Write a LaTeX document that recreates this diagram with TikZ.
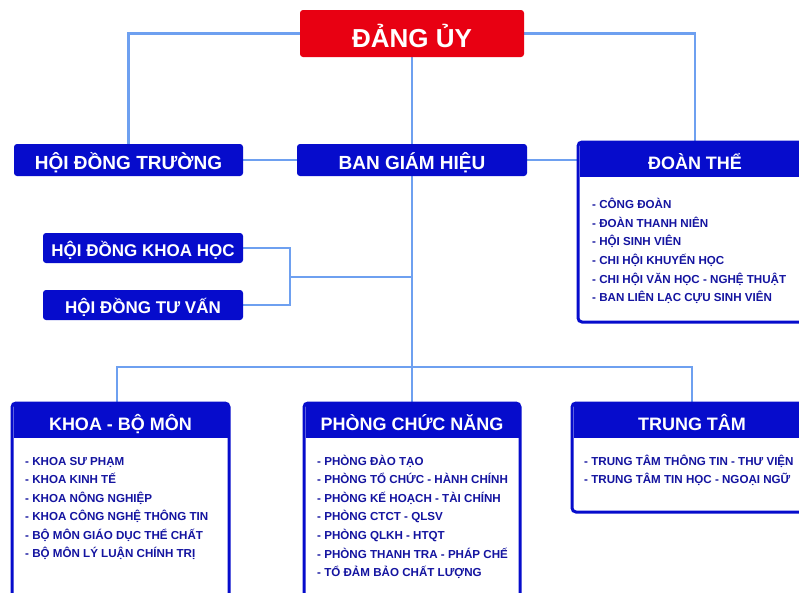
\documentclass[tikz,border=0pt]{standalone}
\usepackage{fontspec}
\setmainfont{Liberation Sans}
\usetikzlibrary{backgrounds}
\definecolor{boxblue}{RGB}{6,12,204}
\definecolor{txtblue}{RGB}{20,20,160}
\definecolor{linkblue}{RGB}{110,160,240}
\definecolor{partyred}{RGB}{232,0,18}
\tikzset{
  link/.style={draw=linkblue, line width=2.6pt},
  topbox/.style={fill=boxblue, text=white, font=\bfseries\fontsize{19}{19}\selectfont,
    rounded corners=3pt, minimum height=32pt, inner sep=0pt, text height=19pt, text depth=0pt},
  listbox/.style={draw=boxblue, line width=3pt, fill=white, rounded corners=4pt, inner sep=0pt},
  headbar/.style={fill=boxblue, inner sep=0pt, text=white, anchor=north,
    font=\bfseries\fontsize{18}{18}\selectfont, text height=21pt, text depth=0pt, minimum height=35pt},
  item/.style={text=txtblue, font=\bfseries\fontsize{11.6}{11.6}\selectfont, inner sep=0pt, anchor=base west}
}
\begin{document}
\begin{tikzpicture}[x=1pt,y=-1pt]
\useasboundingbox (0,0) rectangle (799,592);
\clip (0,0) rectangle (799,592);
% top
\node[topbox, fill=partyred, minimum width=224pt, minimum height=47pt,
  font=\bfseries\fontsize{26}{26}\selectfont, text height=28pt] (dangy) at (412,33.5) {ĐẢNG ỦY};
\node[topbox, minimum width=229pt] (hdt) at (128.5,160) {HỘI ĐỒNG TRƯỜNG};
\node[topbox, minimum width=230pt] (bgh) at (412,160) {BAN GIÁM HIỆU};
\node[topbox, minimum width=200pt, minimum height=30pt, font=\bfseries\fontsize{17}{17}\selectfont, text height=17pt] (hdkh) at (143,248) {HỘI ĐỒNG KHOA HỌC};
\node[topbox, minimum width=200pt, minimum height=30pt, font=\bfseries\fontsize{17}{17}\selectfont, text height=17pt] (hdtv) at (143,305) {HỘI ĐỒNG TƯ VẤN};
% Doan the
\node[listbox, minimum width=234pt, minimum height=180pt] (doanthe) at (695,232) {};
\node[headbar, minimum width=231pt] (doantheH) at ([yshift=-1pt]doanthe.north) {ĐOÀN THỂ};
\foreach \t [count=\i] in {- CÔNG ĐOÀN, - ĐOÀN THANH NIÊN, - HỘI SINH VIÊN, - CHI HỘI KHUYẾN HỌC,
  - CHI HỘI VĂN HỌC - NGHỆ THUẬT, - BAN LIÊN LẠC CỰU SINH VIÊN}
  \node[item] (dt\i) at (592, 208.3+18.7*\i-18.7) {\t};
% Khoa
\node[listbox, minimum width=217pt, minimum height=207pt] (khoa) at (120.5,506.5) {};
\node[headbar, minimum width=214pt] (khoaH) at ([yshift=-1pt]khoa.north) {KHOA - BỘ MÔN};
\foreach \t [count=\i] in {- KHOA SƯ PHẠM, - KHOA KINH TẾ, - KHOA NÔNG NGHIỆP, - KHOA CÔNG NGHỆ THÔNG TIN,
  - BỘ MÔN GIÁO DỤC THỂ CHẤT, - BỘ MÔN LÝ LUẬN CHÍNH TRỊ}
  \node[item] (kh\i) at (25, 465+18.5*\i-18.5) {\t};
% Phong
\node[listbox, minimum width=216pt, minimum height=207pt] (pcn) at (412,506.5) {};
\node[headbar, minimum width=213pt] (pcnH) at ([yshift=-1pt]pcn.north) {PHÒNG CHỨC NĂNG};
\foreach \t [count=\i] in {- PHÒNG ĐÀO TẠO, - PHÒNG TỔ CHỨC - HÀNH CHÍNH, - PHÒNG KẾ HOẠCH - TÀI CHÍNH,
  - PHÒNG CTCT - QLSV, - PHÒNG QLKH - HTQT, - PHÒNG THANH TRA - PHÁP CHẾ, - TỔ ĐẢM BẢO CHẤT LƯỢNG}
  \node[item] (pc\i) at (317, 465+18.6*\i-18.6) {\t};
% Trung tam
\node[listbox, minimum width=240pt, minimum height=109pt] (tt) at (692,457.5) {};
\node[headbar, minimum width=237pt] (ttH) at ([yshift=-1pt]tt.north) {TRUNG TÂM};
\foreach \t [count=\i] in {- TRUNG TÂM THÔNG TIN - THƯ VIỆN, - TRUNG TÂM TIN HỌC - NGOẠI NGỮ}
  \node[item] (tt\i) at (584, 465.3+18.3*\i-18.3) {\t};
% connectors
\begin{scope}[on background layer]
\fill[white] (0,0) rectangle (799,592);
\coordinate (bus) at (412,367);
\coordinate (brk) at (290,277);
\draw[link] (dangy.west) -| (hdt.north);
\draw[link] (dangy.east) -| (doanthe.north);
\draw[link] (dangy.south) -- (bgh.north);
\draw[link] (hdt.east) -- (bgh.west);
\draw[link] (bgh.east) -- (bgh.east -| doanthe.west);
\draw[link] (bgh.south) -- (bus);
\draw[link] (hdkh.east) -| (brk) |- (hdtv.east);
\draw[link] (brk) -- (brk -| bus);
\draw[link] ([xshift=-3.5pt]khoa.north) |- (bus) -| (tt.north);
\draw[link] (bus) -- (pcn.north);
\end{scope}
\end{tikzpicture}
\end{document}
